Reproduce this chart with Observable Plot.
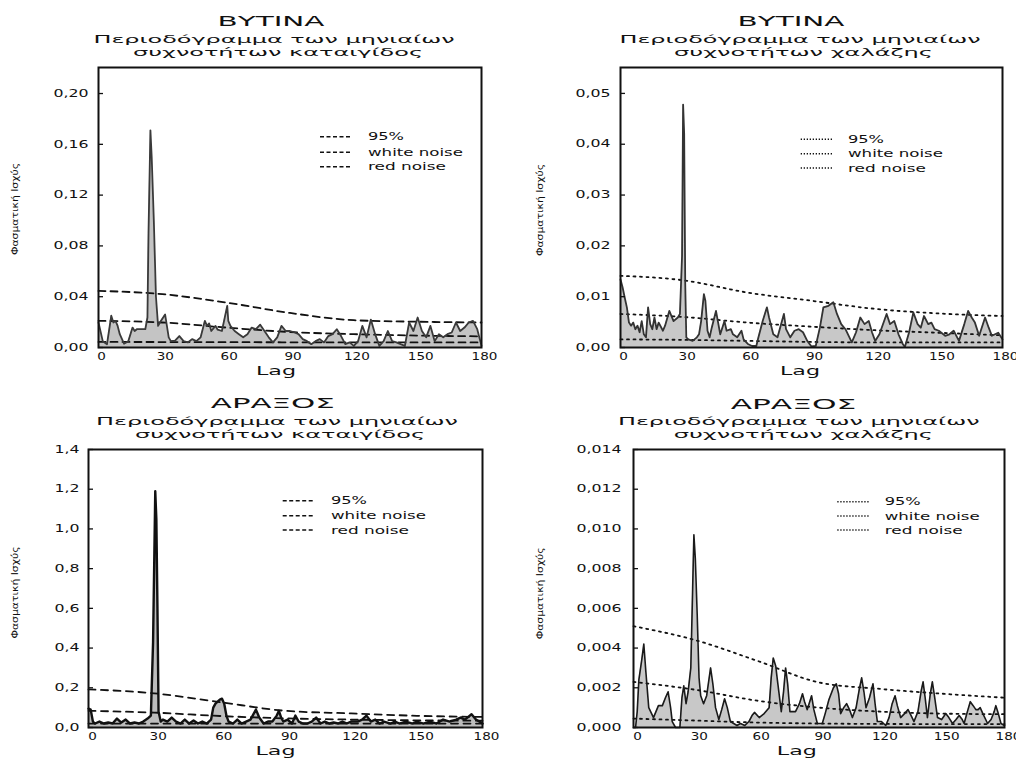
<!DOCTYPE html>
<html><head><meta charset="utf-8">
<script src="https://cdn.jsdelivr.net/npm/d3@7"></script>
<script src="https://cdn.jsdelivr.net/npm/@observablehq/plot@0.6"></script>
<style>
body{margin:0;background:#fff;}
#wrap{position:relative;width:1016px;height:758px;overflow:hidden;background:#fff;font-family:"DejaVu Sans",sans-serif;}
.panel{position:absolute;}
#overlay{position:absolute;left:0;top:0;pointer-events:none;}
</style></head><body><div id="wrap"></div>
<script>
// ---------- shared ----------
const lagTicks = [0, 30, 60, 90, 120, 150, 180];
const legendLabels = ["95%", "white noise", "red noise"];
const yAxisTitle = "Φασματική Ισχύς";
const xAxisTitle = "Lag";
const noiseLag = [0, 30, 60, 90, 120, 150, 180];

// ---------- Panel 1: ΒΥΤΙΝΑ – καταιγίδες ----------
const vytinaStormLag = [0,2,4,6,7,8,9,10,12,14,16,17,18,20,22,23,23.5,24.4,25,26,27,28,29,31.3,33,34,36,38,40,42,44,46,48,50,51,52,53,55,56,58,60.5,61,62,64,66,68,70,72,74,76,78,80,82,84,86,88,90,92,94,96,98,100,102,104,106,108,110,112,114,116,118,120,122,124,126,128,130,132,134,136,138,140,142,144,146,148,150,152,154,156,158,160,162,164,166,168,170,172,174,176,178,180];
const vytinaStormPower = [0.0197,0.005,0.0026,0.025,0.0197,0.021,0.017,0.0105,0.003,0.005,0.0157,0.013,0.0144,0.0144,0.0144,0.0236,0.09,0.171,0.15,0.1,0.04,0.017,0.02,0.026,0.008,0.005,0.0055,0.009,0.005,0.004,0.0066,0.005,0.008,0.021,0.017,0.019,0.013,0.017,0.014,0.013,0.0328,0.021,0.017,0.013,0.0105,0.008,0.0105,0.0157,0.0144,0.018,0.013,0.008,0.004,0.008,0.017,0.013,0.013,0.012,0.0105,0.0066,0.005,0.0026,0.005,0.0066,0.004,0.009,0.0105,0.0144,0.009,0.0026,0.004,0.0013,0.005,0.017,0.008,0.022,0.0105,0.0013,0.005,0.013,0.005,0.004,0.0026,0.0013,0.0197,0.013,0.0236,0.013,0.008,0.017,0.005,0.0105,0.008,0.0105,0.0118,0.0197,0.013,0.0157,0.0197,0.021,0.0144,0.0013];
const vytinaStorm95 = [0.0446,0.042,0.0354,0.0272,0.0215,0.0203,0.0197];
const vytinaStormRed = [0.021,0.0197,0.0157,0.0122,0.0105,0.0094,0.0088];
const vytinaStormWhite = [0.0044,0.0043,0.0042,0.0041,0.004,0.004,0.004];
const vytinaStormTicks = [0,0.04,0.08,0.12,0.16,0.20];

// ---------- Panel 2: ΒΥΤΙΝΑ – χαλάζι ----------
const vytinaHailLag = [0,1,2,3,4,5,6,7,8,9,10,11,12,13,14,15,16,17,18,20,21,23,25,27,28,29,29.5,30,30.5,31,32,34,36,37,38,39.3,40,41,42,43,45,46,47,48,49,50,52,53,55,57,58,60,62,64,65,67,69,70,72,74,77,78,80,82,84,86,88,90,92,94,95.6,98,100.3,102,104,106,109,111,113,115,117,118.5,120,122,125.4,127,129,131,133,134,136,138,140,141.5,143,145,146.5,148,150,153,155,157,159.5,162,163.8,165.5,167,169,171.8,173.5,175,178,180];
const vytinaHailPower = [0.0134,0.0118,0.0098,0.0079,0.0049,0.0043,0.0049,0.0036,0.0043,0.003,0.0052,0.0026,0.002,0.0079,0.0046,0.0036,0.0059,0.0036,0.0049,0.0033,0.0043,0.0072,0.0052,0.0059,0.0066,0.018,0.0478,0.042,0.0125,0.002,0.0016,0.0013,0.002,0.0026,0.0052,0.0105,0.0092,0.0033,0.002,0.0039,0.0072,0.0049,0.0026,0.0039,0.0052,0.0033,0.0036,0.0026,0.002,0.0033,0.0016,0.0007,0.0003,0.0003,0.002,0.0052,0.0079,0.0059,0.0026,0.002,0.0066,0.0036,0.002,0.0033,0.0036,0.003,0.0013,0.0002,0.0003,0.004,0.0079,0.0082,0.0089,0.0066,0.0046,0.0036,0.001,0.003,0.0059,0.0046,0.0052,0.003,0.0013,0.0026,0.0066,0.0046,0.0052,0.0026,0.0007,0.0001,0.003,0.0069,0.0046,0.0039,0.0062,0.0046,0.0049,0.0036,0.0033,0.0023,0.0026,0.0033,0.0013,0.0046,0.0072,0.0059,0.0049,0.0023,0.0059,0.0039,0.0023,0.0029,0.0016];
const vytinaHail95 = [0.0141,0.0132,0.0108,0.0092,0.0076,0.0067,0.0062];
const vytinaHailRed = [0.0066,0.006,0.0049,0.0041,0.0034,0.0029,0.0024];
const vytinaHailWhite = [0.0016,0.0015,0.0013,0.0011,0.001,0.001,0.001];
const vytinaHailTicks = [0,0.01,0.02,0.03,0.04,0.05];

// ---------- Panel 3: ΑΡΑΞΟΣ – καταιγίδες ----------
const araxosStormLag = [0,1,2,3,5,7,9,11,13,15,17,19,21,23,25,27,28.5,29.5,30.5,31,31.5,32,33,34,36,38,40,42,44,46,48,50,52,54,56,57,58,59,60,61,62,63,64,66,68,70,72,74,75,76.5,78,80,82,84,86,87,88,89,91,93,94.5,96,98,100,102,104,106,108,110,112,114,116,118,120,123,125,127,129,131,133,135,138,140,142,145,148,150,153,156,159,162,165,168,170,172,175,177,180];
const araxosStormPower = [0.095,0.09,0.03,0.02,0.03,0.02,0.025,0.02,0.045,0.025,0.04,0.02,0.025,0.02,0.03,0.045,0.06,0.43,1.19,1.05,0.6,0.08,0.03,0.04,0.03,0.05,0.03,0.02,0.04,0.02,0.035,0.02,0.03,0.02,0.04,0.1,0.12,0.13,0.14,0.145,0.12,0.06,0.03,0.02,0.04,0.02,0.03,0.04,0.06,0.09,0.05,0.02,0.03,0.03,0.06,0.084,0.05,0.03,0.04,0.02,0.06,0.03,0.02,0.02,0.03,0.05,0.02,0.03,0.02,0.025,0.02,0.03,0.02,0.03,0.03,0.04,0.06,0.03,0.04,0.02,0.03,0.02,0.03,0.02,0.03,0.02,0.03,0.02,0.03,0.02,0.04,0.03,0.04,0.05,0.04,0.067,0.04,0.02];
const araxosStorm95 = [0.192,0.172,0.128,0.084,0.071,0.059,0.053];
const araxosStormRed = [0.084,0.075,0.058,0.046,0.04,0.036,0.034];
const araxosStormWhite = [0.02,0.02,0.02,0.02,0.02,0.02,0.02];
const araxosStormTicks = [0,0.2,0.4,0.6,0.8,1.0,1.2,1.4];

// ---------- Panel 4: ΑΡΑΞΟΣ – χαλάζι ----------
const araxosHailLag = [0,1,1.8,2.6,4,5,6,7.4,9.7,12.1,14,15.5,16.8,18,18.8,20.4,22.5,23.5,24.4,25.5,26.5,27.8,28.7,29.3,30,30.9,31.8,32.6,34,35.5,37.4,38.5,39.8,41.4,42.8,44.2,45.5,47,50.2,51.9,54,56,57.5,58.7,61,63.4,65.8,66.8,67.8,69,69.8,71.7,72.8,73.8,74.8,75.9,78.6,80.5,82,83,84.3,85.5,86.4,87.5,89.2,91.6,93,94.8,97,98.4,99.5,100.5,102,103.4,104.8,106.2,108,109.5,110.7,111.8,112.8,114.5,116.2,117.2,118.3,120.3,122.4,124,125.5,126.9,128,129.6,131.5,133.2,134.7,136.1,138,139.5,140.5,141.5,142.6,144,145,146,147.5,149.5,151.5,153,154.8,156.5,158,159.5,160.4,162,163.4,164.8,166.1,167.2,168.2,169.5,171.8,173.5,175,175.8,177,178.3,180];
const araxosHailPower = [0,0,0.0008,0.0024,0.0034,0.0042,0.0028,0.001,0.0005,0.0011,0.0011,0.0015,0.0018,0.001,0.0003,0,0,0.0015,0.0021,0.0012,0.0018,0.003,0.007,0.0097,0.0085,0.0057,0.0025,0.0016,0.0012,0.0016,0.003,0.0022,0.001,0.0004,0.0009,0.00145,0.001,0.0003,0.0001,0.0002,0.0001,0.0003,0.0006,0.00076,0.0005,0.0007,0.001,0.0025,0.0035,0.0031,0.0024,0.0008,0.0018,0.003,0.0022,0.0008,0.0008,0.0012,0.0017,0.0013,0.0009,0.0013,0.0016,0.0009,0.0002,0.0002,0.0007,0.0014,0.002,0.0022,0.0017,0.0007,0.001,0.0012,0.0009,0.0005,0.001,0.0019,0.0025,0.0018,0.001,0.0015,0.0022,0.0012,0.0003,0.0003,0.0001,0.0005,0.0012,0.0016,0.0011,0.0005,0.0007,0.0009,0.0006,0.0003,0.0008,0.0018,0.0023,0.0015,0.0005,0.0017,0.0023,0.0016,0.0005,0.0004,0.0007,0.0005,0.0002,0.0004,0.0006,0.0004,0.0002,0.0008,0.0013,0.0011,0.0009,0.0009,0.001,0.0007,0.0002,0.0004,0.0008,0.0011,0.0007,0.0002,0.0001];
const araxosHail95 = [0.0051,0.0044,0.00336,0.00227,0.00194,0.0017,0.0015];
const araxosHailRed = [0.0023,0.0019,0.00135,0.001,0.0008,0.0007,0.00067];
const araxosHailWhite = [0.00045,0.00035,0.00025,0.0002,0.00018,0.00017,0.00017];
const araxosHailTicks = [0,0.002,0.004,0.006,0.008,0.010,0.012,0.014];

// ---------- titles ----------
const stationVytina = "ΒΥΤΙΝΑ";
const stationAraxos = "ΑΡΑΞΟΣ";
const subLine1 = "Περιοδόγραμμα των μηνιαίων";
const subStorm = "συχνοτήτων καταιγίδος";
const subHail = "συχνοτήτων χαλάζης";

// ---------- layout / styles ----------
const panels = [
  {left:0, top:0, h:380, mL:98, mR:27, mT:67, mB:33, yMax:0.2205, fmt:".2f", yPad:10,
   lag:vytinaStormLag, power:vytinaStormPower, c95:vytinaStorm95, red:vytinaStormRed, white:vytinaStormWhite, ticks:vytinaStormTicks,
   dash:"7,5", lineW:1.8, stroke:"#3a3a3a", fill:"#c4c4c4", legDash:"4,2.5", xdx:3,
   title:stationVytina, sub2:subStorm, tx:271, tw:107, ty:26, s1x:274, s1w:361, s1y:43.3, s2x:278, s2w:290, s2y:56,
   lagX:276, lagY:375, ylx:15, yly:209, legX1:320, legX2:352, legTx:368, legY:[136.7,152.3,166.7]},
  {left:508, top:0, h:380, mL:112, mR:14, mT:67, mB:33, yMax:0.0551, fmt:".2f", yPad:10,
   lag:vytinaHailLag, power:vytinaHailPower, c95:vytinaHail95, red:vytinaHailRed, white:vytinaHailWhite, ticks:vytinaHailTicks,
   dash:"2,4.5", lineW:1.8, stroke:"#333", fill:"#c8c8c8", legDash:"1.3,1.7", xdx:3,
   title:stationVytina, sub2:subHail, tx:791, tw:107, ty:26, s1x:800, s1w:361, s1y:43.3, s2x:803.5, s2w:259, s2y:56,
   lagX:800, lagY:375, ylx:539.7, yly:210, legX1:800.7, legX2:833, legTx:848, legY:[139.3,153.7,168]},
  {left:0, top:380, h:378, mL:88, mR:26, mT:69, mB:31, yMax:1.4, fmt:".1f", yPad:9,
   lag:araxosStormLag, power:araxosStormPower, c95:araxosStorm95, red:araxosStormRed, white:araxosStormWhite, ticks:araxosStormTicks,
   dash:"7,5.5", lineW:2.4, stroke:"#111", fill:"#bdbdbd", legDash:"4,2.5", xdx:4,
   title:stationAraxos, sub2:subStorm, tx:272.8, tw:124, ty:408.3, s1x:277, s1w:362, s1y:425, s2x:280, s2w:290, s2y:437.8,
   lagX:275.5, lagY:755, ylx:15, yly:592.5, legX1:282.7, legX2:315, legTx:331, legY:[500.7,515.7,530]},
  {left:508, top:380, h:378, mL:125, mR:12, mT:69, mB:31, yMax:0.014, fmt:".3f", yPad:12,
   lag:araxosHailLag, power:araxosHailPower, c95:araxosHail95, red:araxosHailRed, white:araxosHailWhite, ticks:araxosHailTicks,
   dash:"2,4.5", lineW:1.6, stroke:"#1a1a1a", fill:"#c8c8c8", legDash:"1.3,1.7", xdx:4,
   title:stationAraxos, sub2:subHail, tx:793.5, tw:125.7, ty:409, s1x:798.8, s1w:361.7, s1y:424.8, s2x:803.3, s2w:259.3, s2y:437.6,
   lagX:796.8, lagY:755, ylx:539.7, yly:593.3, legX1:837.3, legX2:869, legTx:884.7, legY:[501.7,516,530]}
];

const wrap = document.getElementById("wrap");

function stretchTexts(nodes, f) {
  nodes.each(function() {
    const L = this.getComputedTextLength();
    if (L > 0) { this.setAttribute("textLength", (L * f).toFixed(1)); this.setAttribute("lengthAdjust", "spacingAndGlyphs"); }
  });
}

panels.forEach(cfg => {
  const data = cfg.lag.map((l, i) => ({lag: l, p: cfg.power[i]}));
  const noise = noiseLag.map((l, i) => ({lag: l, c95: cfg.c95[i], red: cfg.red[i], white: cfg.white[i]}));
  const fmt = v => d3.format(cfg.fmt)(v).replace(".", ",");
  const dashStyle = {stroke: "#111", strokeWidth: 1.8, strokeDasharray: cfg.dash, curve: "monotone-x"};
  const plot = Plot.plot({
    width: 508, height: cfg.h,
    marginLeft: cfg.mL, marginRight: cfg.mR, marginTop: cfg.mT, marginBottom: cfg.mB,
    x: {domain: [0, 180]},
    y: {domain: [0, cfg.yMax]},
    style: {fontFamily: "DejaVu Sans", fontSize: "10px", color: "#111", background: "transparent", overflow: "visible"},
    marks: [
      Plot.areaY(data, {x: "lag", y: "p", fill: cfg.fill}),
      Plot.line(noise, {x: "lag", y: "c95", ...dashStyle}),
      Plot.line(noise, {x: "lag", y: "red", ...dashStyle}),
      Plot.line(noise, {x: "lag", y: "white", ...dashStyle}),
      Plot.line(data, {x: "lag", y: "p", stroke: cfg.stroke, strokeWidth: cfg.lineW, strokeLinejoin: "round"}),
      Plot.axisX(lagTicks, {tickSize: 0, tickPadding: 5, tickFormat: d => String(d), dx: cfg.xdx, label: null, fill: "#111"}),
      Plot.axisY(cfg.ticks, {tickSize: -5, tickPadding: cfg.yPad + 5, tickFormat: fmt, label: null, fill: "#111", strokeWidth: 1.3}),
      Plot.frame({stroke: "#111", strokeWidth: 2})
    ]
  });
  const div = document.createElement("div");
  div.className = "panel";
  div.style.left = cfg.left + "px"; div.style.top = cfg.top + "px"; div.style.width = "508px";
  div.appendChild(plot);
  wrap.appendChild(div);
  const s = d3.select(plot);
  stretchTexts(s.selectAll('g[aria-label="y-axis tick label"] text'), 1.57);
  stretchTexts(s.selectAll('g[aria-label="x-axis tick label"] text'), 1.35);
});

// ---------- overlay: titles, axis titles, legends ----------
const ov = d3.select(wrap).append("svg").attr("id", "overlay")
  .attr("width", 1016).attr("height", 758)
  .style("font-family", "DejaVu Sans").style("fill", "#111");

function txt(x, y, s, size, len, anchor = "middle") {
  return ov.append("text").attr("x", x).attr("y", y).attr("font-size", size)
    .attr("text-anchor", anchor).attr("textLength", len).attr("lengthAdjust", "spacingAndGlyphs").text(s);
}

panels.forEach(cfg => {
  txt(cfg.tx, cfg.ty, cfg.title, 14.5, cfg.tw);
  txt(cfg.s1x, cfg.s1y, subLine1, 11, cfg.s1w);
  txt(cfg.s2x, cfg.s2y, cfg.sub2, 11, cfg.s2w);
  txt(cfg.lagX, cfg.lagY, xAxisTitle, 13, 40);
  ov.append("text").attr("transform", `translate(${cfg.ylx},${cfg.yly}) rotate(-90)`)
    .attr("font-size", 9).attr("text-anchor", "middle").attr("dy", "0.35em")
    .attr("textLength", 92).attr("lengthAdjust", "spacingAndGlyphs").text(yAxisTitle);
  const widths = [36, 95, 78];
  legendLabels.forEach((lab, i) => {
    const y = cfg.legY[i];
    ov.append("line").attr("x1", cfg.legX1).attr("x2", cfg.legX2).attr("y1", y).attr("y2", y)
      .attr("stroke", "#111").attr("stroke-width", 1.6).attr("stroke-dasharray", cfg.legDash);
    txt(cfg.legTx, y + 3.6, lab, 10, widths[i], "start");
  });
});
</script></body></html>
